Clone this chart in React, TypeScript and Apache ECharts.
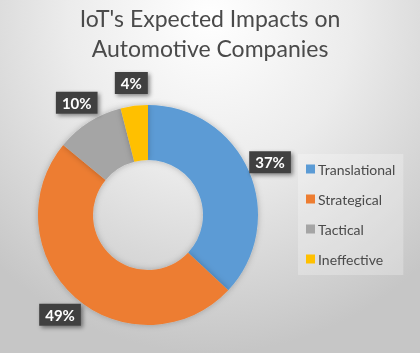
import React, { useEffect, useRef } from "react";
import * as echarts from "echarts";

const titleLines = ["IoT's Expected Impacts on", "Automotive Companies"];
const categories = ["Translational", "Strategical", "Tactical", "Ineffective"];
const values = [37, 49, 10, 4];
const colors = ["#5B9BD5", "#ED7D31", "#A5A5A5", "#FFC000"];

export default function App() {
  const ref = useRef<HTMLDivElement>(null);
  useEffect(() => {
    if (!ref.current) return;
    const chart = echarts.init(ref.current, undefined, { renderer: "svg" });
    const data = categories.map((name, i) => ({ name, value: values[i] }));
    chart.setOption({
      animation: false,
      color: colors,
      title: {
        text: titleLines.join("\n"),
        left: "center",
        top: 3,
        padding: 0,
        textStyle: {
          fontFamily: "Lato",
          fontSize: 23,
          fontWeight: "normal",
          color: "#4a4a4a",
          lineHeight: 30,
        },
      },
      legend: {
        orient: "vertical",
        left: 298,
        top: 154,
        width: 113,
        padding: [8, 8, 9, 8],
        itemWidth: 9,
        itemHeight: 9,
        itemGap: 16,
        backgroundColor: "rgba(255,255,255,0.25)",
        icon: "rect",
        data: categories,
        textStyle: {
          fontFamily: "Lato",
          fontSize: 14,
          color: "#4a4a4a",
          padding: [0, 0, 0, -2],
        },
      },
      series: [
        {
          type: "pie",
          center: [148, 215],
          radius: [55, 110],
          startAngle: 90,
          clockwise: true,
          data,
          label: { show: false },
          labelLine: { show: false },
          itemStyle: {
            shadowBlur: 6,
            shadowColor: "rgba(0,0,0,0.25)",
          },
        },
        {
          type: "pie",
          center: [148, 215],
          radius: [118, 142],
          startAngle: 90,
          clockwise: true,
          silent: true,
          data,
          itemStyle: { color: "rgba(0,0,0,0)" },
          labelLine: { show: false },
          label: {
            show: true,
            position: "inside",
            formatter: (p: any) => `${p.value}%`,
            fontFamily: "Lato",
            fontSize: 15,
            fontWeight: "bold",
            color: "#ffffff",
            backgroundColor: "#404040",
            padding: [4, 6, 3, 6],
            shadowBlur: 4,
            shadowOffsetX: 2,
            shadowOffsetY: 2,
            shadowColor: "rgba(0,0,0,0.45)",
          },
        },
      ],
    });
    return () => chart.dispose();
  }, []);
  return (
    <div
      ref={ref}
      style={{
        position: "fixed",
        left: 0,
        top: 0,
        width: 420,
        height: 353,
        background:
          "radial-gradient(ellipse 75% 95% at 50% 5%, #ffffff 0%, #ececec 45%, #c6c6c6 100%)",
      }}
    />
  );
}
